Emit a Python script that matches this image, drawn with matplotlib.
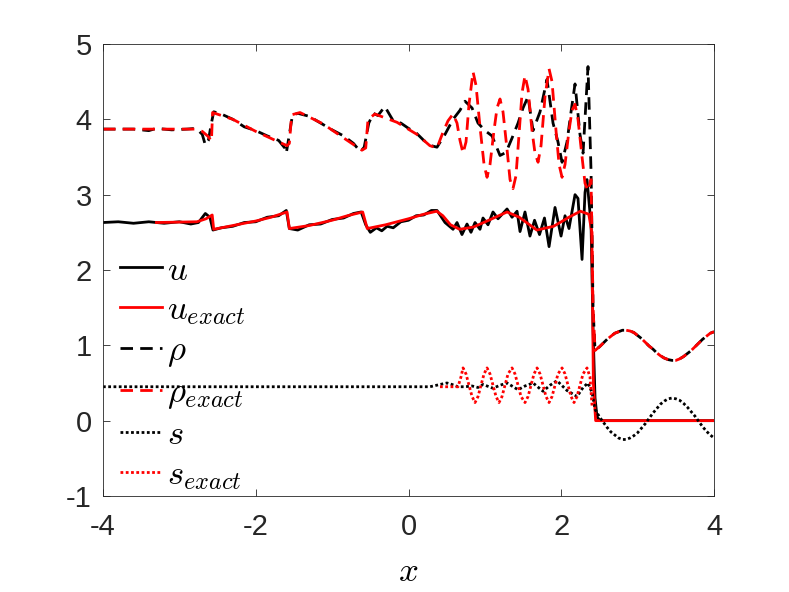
import matplotlib
matplotlib.use('Agg')
from matplotlib import pyplot as plt

plt.rcParams['font.family'] = ['Liberation Sans', 'DejaVu Sans']
plt.rcParams['mathtext.fontset'] = 'cm'
plt.rcParams['axes.unicode_minus'] = False

# numerical velocity u
x_u = [-4.0, -3.8, -3.6, -3.4, -3.2, -3.0, -2.85, -2.75, -2.66, -2.6, -2.56, -2.45, -2.3,
       -2.15, -2.0, -1.85, -1.7, -1.6, -1.56, -1.45, -1.3, -1.15, -1.0, -0.85, -0.72,
       -0.62, -0.56, -0.5, -0.42, -0.35, -0.28, -0.2, -0.1, 0.0, 0.1, 0.2, 0.3, 0.373,
       0.478, 0.583, 0.635, 0.700, 0.766, 0.818, 0.871, 0.936, 0.975, 1.041, 1.106, 1.172,
       1.290, 1.355, 1.421, 1.460, 1.525, 1.590, 1.650, 1.715, 1.780, 1.840, 1.918, 1.997,
       2.049, 2.101, 2.180, 2.219, 2.272, 2.311, 2.337, 2.390, 2.416, 2.442, 2.468, 2.507,
       4.0]
u_num = [2.63, 2.64, 2.62, 2.64, 2.62, 2.64, 2.61, 2.63, 2.75, 2.70, 2.53, 2.56, 2.58,
         2.63, 2.64, 2.70, 2.72, 2.79, 2.55, 2.53, 2.60, 2.61, 2.67, 2.69, 2.75,
         2.77, 2.60, 2.50, 2.56, 2.52, 2.58, 2.56, 2.64, 2.66, 2.72, 2.73, 2.79, 2.79,
         2.63, 2.54, 2.63, 2.47, 2.61, 2.50, 2.63, 2.54, 2.69, 2.60, 2.77, 2.68,
         2.81, 2.70, 2.78, 2.51, 2.77, 2.45, 2.66, 2.47, 2.69, 2.31, 2.83, 2.45,
         2.72, 2.55, 3.00, 2.95, 2.14, 3.03, 3.20, 2.60, 1.20, 0.30, 0.05, 0.0,
         0.0]

# exact velocity
x_u_ex = [-3.3, -2.77, -2.65, -2.57, -2.55, -2.3, -2.0, -1.8, -1.59, -1.56, -1.3, -1.0,
          -0.8, -0.6, -0.54, -0.3, 0.0, 0.2, 0.37, 0.45, 0.55, 0.67, 0.85, 1.05, 1.29,
          1.45, 1.68, 1.9, 2.1, 2.25, 2.36, 2.40, 2.42, 2.45, 4.0]
u_ex = [2.63, 2.64, 2.68, 2.73, 2.54, 2.59, 2.65, 2.70, 2.77, 2.55, 2.59, 2.66,
        2.72, 2.77, 2.55, 2.60, 2.68, 2.74, 2.78, 2.72, 2.60, 2.54, 2.57, 2.66, 2.77,
        2.70, 2.53, 2.58, 2.70, 2.78, 2.74, 2.50, 0.50, 0.0, 0.0]

# shared part behind the shock
x_right = [2.45, 2.50, 2.55, 2.60, 2.65, 2.70, 2.75, 2.80, 2.85, 2.90, 2.95, 3.00, 3.05,
           3.10, 3.15, 3.20, 3.25, 3.30, 3.35, 3.40, 3.45, 3.50, 3.55, 3.60, 3.65, 3.70,
           3.75, 3.80, 3.85, 3.90, 3.95, 4.00]
rho_right = [0.94, 0.98, 1.03, 1.08, 1.12, 1.16, 1.18, 1.20, 1.20, 1.19, 1.17, 1.13, 1.09,
             1.04, 0.99, 0.95, 0.90, 0.86, 0.83, 0.81, 0.80, 0.80, 0.82, 0.85, 0.89, 0.93,
             0.98, 1.03, 1.08, 1.12, 1.16, 1.18]
s_right = [0.11, 0.05, -0.02, -0.09, -0.15, -0.19, -0.23, -0.25, -0.25, -0.23, -0.20, -0.16,
           -0.10, -0.04, 0.03, 0.10, 0.16, 0.22, 0.26, 0.29, 0.30, 0.29, 0.27, 0.23, 0.18,
           0.12, 0.06, -0.01, -0.08, -0.14, -0.19, -0.23]

# numerical density
x_rho = [-4.0, -3.6, -3.4, -3.3, -3.1, -2.9, -2.78, -2.7, -2.66, -2.62, -2.58, -2.55, -2.45,
         -2.3, -2.15, -2.0, -1.85, -1.7, -1.62, -1.6, -1.56, -1.52, -1.45, -1.3, -1.15,
         -1.0, -0.85, -0.72, -0.63, -0.58, -0.52, -0.46, -0.4, -0.31, -0.2, -0.1, 0.0,
         0.1, 0.2, 0.3, 0.373, 0.478, 0.583, 0.674, 0.740, 0.832, 0.910, 1.002, 1.093,
         1.198, 1.276, 1.355, 1.434, 1.499, 1.565, 1.630, 1.722, 1.813, 1.892, 1.957,
         2.010, 2.075, 2.128, 2.180, 2.245, 2.285, 2.350, 2.390, 2.416, 2.442]
rho_num = [3.87, 3.87, 3.85, 3.88, 3.86, 3.87, 3.88, 3.80, 3.66, 3.72, 3.95, 4.10, 4.07,
           4.00, 3.90, 3.85, 3.78, 3.72, 3.62, 3.55, 3.80, 4.05, 4.08, 4.04, 3.95,
           3.86, 3.78, 3.68, 3.57, 3.63, 3.95, 4.08, 4.05, 4.17, 3.98, 3.95, 3.88,
           3.82, 3.72, 3.65, 3.63, 3.80, 4.00, 4.12, 4.24, 4.15, 3.95, 3.85, 3.78,
           3.52, 3.56, 3.75, 3.95, 4.15, 4.30, 3.85, 4.10, 4.53, 3.95, 3.70,
           3.43, 3.70, 4.10, 4.47, 3.80, 3.55, 4.70, 3.30, 1.50, 0.94]

# exact density
x_rho_ex = [-4.0, -2.8, -2.7, -2.62, -2.58, -2.565, -2.3, -2.0, -1.7, -1.59, -1.56, -1.53,
            -1.42, -1.12, -0.86, -0.61, -0.56, -0.53, -0.44, -0.15, 0.11, 0.28, 0.373,
            0.452, 0.517, 0.583, 0.635, 0.674, 0.714, 0.753, 0.792, 0.845, 0.884, 0.936,
            0.989, 1.028, 1.067, 1.119, 1.159, 1.198, 1.237, 1.290, 1.329, 1.368, 1.407,
            1.447, 1.486, 1.525, 1.565, 1.617, 1.656, 1.696, 1.735, 1.787, 1.840, 1.879,
            1.931, 1.971, 2.010, 2.049, 2.101, 2.141, 2.180, 2.219, 2.272, 2.311, 2.350,
            2.390, 2.416, 2.442]
rho_ex = [3.87, 3.87, 3.84, 3.77, 3.71, 4.09, 4.00, 3.84, 3.70, 3.65, 3.68, 4.06,
          4.09, 3.94, 3.76, 3.59, 3.62, 4.00, 4.07, 3.96, 3.80, 3.65, 3.62,
          3.83, 3.98, 4.07, 3.95, 3.72, 3.55, 3.70, 4.20, 4.63, 4.45, 3.90,
          3.40, 3.23, 3.40, 3.85, 4.15, 4.27, 4.10, 3.60, 3.20, 3.08, 3.25,
          3.80, 4.35, 4.58, 4.40, 3.85, 3.55, 3.43, 3.65, 4.30, 4.67, 4.50,
          3.85, 3.40, 3.23, 3.40, 3.85, 4.12, 4.20, 4.00, 3.50, 3.15, 3.05,
          3.20, 1.50, 0.93]

# numerical s
x_s = [-4.0, 0.281, 0.412, 0.504, 0.570, 0.648, 0.740, 0.832, 0.910, 0.975, 1.106, 1.198,
       1.290, 1.434, 1.525, 1.630, 1.761, 1.853, 1.944, 2.075, 2.206, 2.285, 2.350, 2.403,
       2.442]
s_num = [0.45, 0.45, 0.48, 0.50, 0.48, 0.45, 0.45, 0.46, 0.44, 0.48, 0.43, 0.47,
         0.50, 0.41, 0.46, 0.50, 0.39, 0.47, 0.53, 0.40, 0.32, 0.44, 0.50, 0.37,
         0.15]

# exact s
x_s_ex = [0.412, 0.648, 0.687, 0.714, 0.753, 0.792, 0.832, 0.871, 0.910, 0.949, 0.989,
          1.028, 1.067, 1.106, 1.146, 1.185, 1.224, 1.263, 1.303, 1.355, 1.394, 1.434,
          1.473, 1.525, 1.565, 1.604, 1.643, 1.683, 1.722, 1.761, 1.800, 1.840, 1.879,
          1.918, 1.957, 2.010, 2.049, 2.088, 2.128, 2.167, 2.206, 2.245, 2.285, 2.337,
          2.376, 2.403]
s_ex = [0.45, 0.45, 0.58, 0.70, 0.62, 0.47, 0.32, 0.24, 0.32, 0.47, 0.62,
        0.70, 0.62, 0.47, 0.32, 0.24, 0.32, 0.47, 0.62, 0.70, 0.62, 0.47,
        0.32, 0.24, 0.32, 0.47, 0.62, 0.70, 0.62, 0.47, 0.32, 0.24, 0.32,
        0.47, 0.62, 0.70, 0.62, 0.47, 0.32, 0.24, 0.32, 0.47, 0.62, 0.70,
        0.58, 0.20]

fig = plt.figure(figsize=(7.89, 5.92), dpi=100)
ax = fig.add_axes([0.1305, 0.1622, 0.7745, 0.7635])

lw = 2.0
dash = (4.5, 2.6)
dot = (1.0, 0.9)
ax.plot(x_u, u_num, color='k', lw=lw, label='$u$')
ax.plot(x_u_ex, u_ex, color='r', lw=lw, label='$u_{exact}$')
ax.plot(x_rho + x_right, rho_num + rho_right, color='k', lw=lw, dashes=dash, label=r'$\rho$')
ax.plot(x_rho_ex + x_right, rho_ex + rho_right, color='r', lw=lw, dashes=dash,
        label=r'$\rho_{exact}$')
ax.plot(x_s + x_right[1:], s_num + s_right[1:], color='k', lw=lw, dashes=dot, label='$s$')
ax.plot(x_s_ex, s_ex, color='r', lw=lw, dashes=dot, label='$s_{exact}$')

ax.set_xlim(-4, 4)
ax.set_ylim(-1, 5)
ax.set_xticks([-4, -2, 0, 2, 4])
ax.set_yticks([-1, 0, 1, 2, 3, 4, 5])
ax.tick_params(direction='in', length=5, width=0.6, top=True, right=True,
               labelsize=21, colors='#262626')
ax.tick_params(axis='x', pad=12)
ax.tick_params(axis='y', pad=8)
for sp in ax.spines.values():
    sp.set_linewidth(0.6)
    sp.set_color('#262626')
ax.set_xlabel('$x$', fontsize=25, labelpad=10)

leg = ax.legend(loc='upper left', bbox_to_anchor=(-0.012, 0.59), frameon=False,
                fontsize=25, handlelength=1.2, handletextpad=0.15,
                labelspacing=0.2, borderaxespad=0.3)

fig.savefig('out.png', dpi=100)
